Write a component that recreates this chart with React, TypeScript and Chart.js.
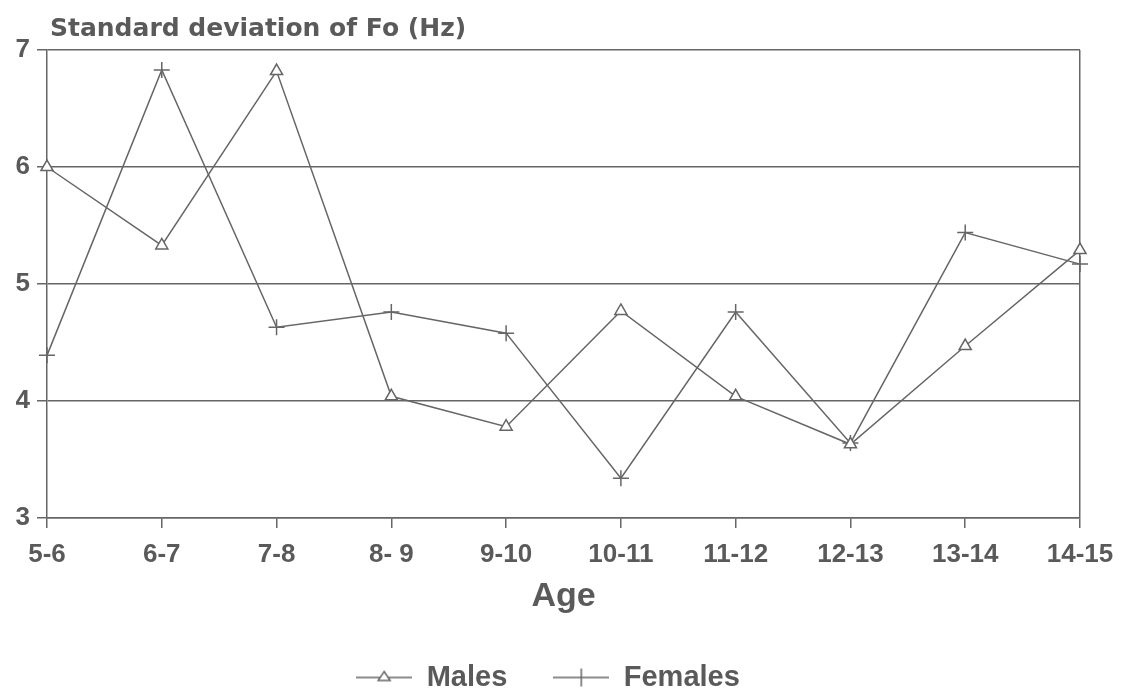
import React, { useEffect, useRef } from "react";
import { Chart, registerables } from "chart.js";

Chart.register(...registerables);

const ageGroups = ["5-6", "6-7", "7-8", "8- 9", "9-10", "10-11", "11-12", "12-13", "13-14", "14-15"];
const males = [6.0, 5.33, 6.82, 4.04, 3.78, 4.77, 4.04, 3.63, 4.47, 5.29];
const females = [4.39, 6.83, 4.63, 4.76, 4.58, 3.34, 4.76, 3.64, 5.44, 5.17];
const yTicks = [3, 4, 5, 6, 7];
const titleText = "Standard deviation of Fo (Hz)";
const xTitle = "Age";

const INK = "#5a5a5a";
const LINE = "#666666";
const FONT = "'Liberation Sans', Arial, sans-serif";
const WIDE = "'DejaVu Sans', 'Liberation Sans', sans-serif";

function legendIcon(kind: "tri" | "cross"): HTMLCanvasElement {
  const c = document.createElement("canvas");
  c.width = 56;
  c.height = 20;
  const g = c.getContext("2d")!;
  g.strokeStyle = LINE;
  g.lineWidth = 1.5;
  g.beginPath();
  g.moveTo(0, 10);
  g.lineTo(56, 10);
  g.stroke();
  if (kind === "tri") {
    g.fillStyle = "#fff";
    g.beginPath();
    g.moveTo(28, 4);
    g.lineTo(34, 13);
    g.lineTo(22, 13);
    g.closePath();
    g.fill();
    g.stroke();
  } else {
    g.beginPath();
    g.moveTo(28, 1);
    g.lineTo(28, 19);
    g.stroke();
  }
  return c;
}

export default function App() {
  const ref = useRef<HTMLCanvasElement>(null);
  useEffect(() => {
    const canvas = ref.current!;
    const titlePlugin = {
      id: "topTitle",
      afterDraw(chart: any) {
        const ctx = chart.ctx;
        ctx.save();
        ctx.fillStyle = INK;
        ctx.font = `bold 25px ${WIDE}`;
        ctx.textBaseline = "alphabetic";
        ctx.textAlign = "left";
        ctx.fillText(titleText, chart.chartArea.left + 3, 36);
        ctx.restore();
      },
    };
    const triIcon = legendIcon("tri");
    const crossIcon = legendIcon("cross");
    const chart = new Chart(canvas, {
      type: "line",
      data: {
        labels: ageGroups,
        datasets: [
          {
            label: "Males",
            data: males,
            borderColor: LINE,
            backgroundColor: "#ffffff",
            borderWidth: 1.5,
            pointStyle: "triangle",
            pointRadius: 7,
            pointBorderWidth: 1.5,
            pointBackgroundColor: "#ffffff",
            pointBorderColor: LINE,
            tension: 0,
          },
          {
            label: "Females",
            data: females,
            borderColor: LINE,
            backgroundColor: LINE,
            borderWidth: 1.5,
            pointStyle: "cross",
            pointRadius: 8,
            pointBorderWidth: 1.5,
            pointBorderColor: LINE,
            tension: 0,
          },
        ],
      },
      options: {
        responsive: false,
        animation: false,
        layout: { padding: { left: 16, right: 48, top: 50, bottom: 0 } },
        plugins: {
          tooltip: { enabled: false },
          title: { display: false },
          legend: {
            position: "bottom",
            labels: {
              usePointStyle: true,
              pointStyleWidth: 56,
              padding: 46,
              color: INK,
              font: { family: FONT, size: 29, weight: "bold" },
              generateLabels: (chart: any) =>
                chart.data.datasets.map((ds: any, i: number) => ({
                  text: ds.label,
                  pointStyle: i === 0 ? triIcon : crossIcon,
                  fillStyle: "#fff",
                  strokeStyle: LINE,
                  lineWidth: 0,
                  fontColor: INK,
                  datasetIndex: i,
                  hidden: false,
                })),
            },
          },
        },
        scales: {
          x: {
            type: "category",
            offset: false,
            afterFit: (scale: any) => {
              scale.height = 99;
            },
            grid: {
              display: true,
              drawOnChartArea: true,
              color: (ctx: any) => (ctx.index === ageGroups.length - 1 ? LINE : "rgba(0,0,0,0)"),
              lineWidth: 1.5,
              tickColor: LINE,
              tickLength: 10,
            },
            border: { display: true, color: LINE, width: 1.5 },
            ticks: {
              color: INK,
              font: { family: FONT, size: 26, weight: "bold" },
              padding: 11,
              maxRotation: 0,
              autoSkip: false,
            },
            title: {
              display: true,
              text: xTitle,
              color: INK,
              font: { family: FONT, size: 34, weight: "bold" },
              padding: { top: 0, bottom: 0 },
            },
          },
          y: {
            min: 3,
            max: 7,
            afterFit: (scale: any) => {
              scale.width = 31;
            },
            afterBuildTicks: (scale: any) => {
              scale.ticks = yTicks.map((v) => ({ value: v }));
            },
            grid: {
              display: true,
              color: LINE,
              lineWidth: 1.5,
              tickColor: LINE,
              tickLength: 10,
            },
            border: { display: true, color: LINE, width: 1.5 },
            ticks: {
              color: INK,
              font: { family: FONT, size: 26, weight: "bold" },
              padding: 7,
              stepSize: 1,
            },
          },
        },
      },
      plugins: [titlePlugin],
    } as any);
    return () => chart.destroy();
  }, []);
  return (
    <div
      style={{
        position: "fixed",
        left: 0,
        top: 0,
        width: 1128,
        height: 689,
        overflow: "hidden",
        background: "#fff",
      }}
    >
      <canvas ref={ref} width={1128} height={702} style={{ display: "block" }} />
    </div>
  );
}
